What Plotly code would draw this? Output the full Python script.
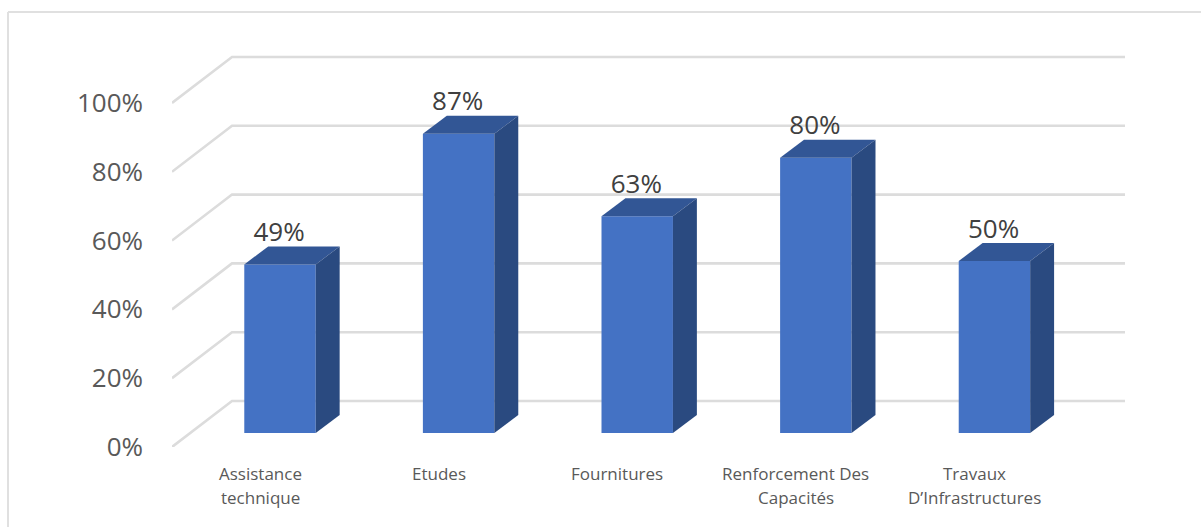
import plotly.graph_objects as go

# Data
CATEGORY_LINE_1 = ["Assistance", "Etudes", "Fournitures", "Renforcement Des", "Travaux"]
CATEGORY_LINE_2 = ["technique", "", "", "Capacités", "D’Infrastructures"]
VALUES = [49, 87, 63, 80, 50]
Y_TICKS = [0, 20, 40, 60, 80, 100]
Y_TICK_LABELS = ["0%", "20%", "40%", "60%", "80%", "100%"]

# Oblique projection, in axis units
BAR_WIDTH = 0.4
BASE = 4.07
BAR_DX, BAR_DY = 0.134, 5.23
WALL_DX, WALL_DY = 0.336, 13.37
X_LEFT, X_RIGHT = -0.6047, 4.731
Y_TOP = 115.4

FRONT, TOP, SIDE = "#4472C4", "#325695", "#2A4A80"
GRID = "#DCDCDC"
FONT = "Open Sans, sans-serif"

positions = list(range(len(VALUES)))
fig = go.Figure()

# Floor / wall gridlines
for v in Y_TICKS:
    fig.add_trace(go.Scatter(
        x=[X_LEFT, X_LEFT + WALL_DX, X_RIGHT], y=[v, v + WALL_DY, v + WALL_DY],
        mode="lines", line=dict(color=GRID, width=2.6), cliponaxis=False,
        hoverinfo="skip", zorder=0))

# Front faces
fig.add_trace(go.Bar(
    x=positions, y=VALUES, base=[BASE] * len(VALUES), width=BAR_WIDTH,
    marker=dict(color=FRONT, line=dict(width=0)), zorder=1))

# Top and side faces
for i, v in zip(positions, VALUES):
    l, r = i - BAR_WIDTH / 2, i + BAR_WIDTH / 2
    t = BASE + v
    fig.add_trace(go.Scatter(
        x=[l, r, r + BAR_DX, l + BAR_DX, l], y=[t, t, t + BAR_DY, t + BAR_DY, t],
        mode="lines", fill="toself", fillcolor=TOP, line=dict(width=0),
        hoverinfo="skip", zorder=2))
    fig.add_trace(go.Scatter(
        x=[r, r + BAR_DX, r + BAR_DX, r, r],
        y=[BASE, BASE + BAR_DY, t + BAR_DY, t, BASE],
        mode="lines", fill="toself", fillcolor=SIDE, line=dict(width=0),
        hoverinfo="skip", zorder=2))

# Data labels
fig.add_trace(go.Scatter(
    x=[p - 0.005 for p in positions], y=[BASE + v + BAR_DY - 0.3 for v in VALUES],
    mode="text", text=[f"{v}%" for v in VALUES], textposition="top center",
    textfont=dict(family=FONT, size=26, color="#404040"),
    cliponaxis=False, hoverinfo="skip", zorder=3))

W, H = 1201, 527
ML, MR, MT, MB = 172, 76, 50, 80
pw, ph = W - ML - MR, H - MT - MB
px = lambda v: (v - ML) / pw
py = lambda v: (H - MB - v) / ph

annotations = []
for i, (a, b) in enumerate(zip(CATEGORY_LINE_1, CATEGORY_LINE_2)):
    for text, y in ((a, 473), (b, 497)):
        if text:
            annotations.append(dict(
                x=i - 0.112, y=py(y), xref="x", yref="paper", text=text, showarrow=False,
                xanchor="center", yanchor="middle",
                font=dict(family=FONT, size=17, color="#595959")))

frame = dict(color="#E0E0E0", width=2)
shapes = [
    dict(type="line", xref="paper", yref="paper", x0=px(8), x1=px(W), y0=py(12), y1=py(12), line=frame, layer="below"),
    dict(type="line", xref="paper", yref="paper", x0=px(8), x1=px(8), y0=py(12), y1=py(H), line=frame, layer="below"),
]

fig.update_layout(
    width=W, height=H, autosize=False,
    margin=dict(l=ML, r=MR, t=MT, b=MB),
    paper_bgcolor="white", plot_bgcolor="white", showlegend=False,
    annotations=annotations, shapes=shapes,
    xaxis=dict(range=[X_LEFT, X_RIGHT], showgrid=False, zeroline=False,
               showticklabels=False, ticks="", showline=False, fixedrange=True),
    yaxis=dict(range=[0, Y_TOP], tickmode="array", tickvals=Y_TICKS, ticktext=Y_TICK_LABELS,
               showgrid=False, zeroline=False, showline=False, ticks="", ticklabelstandoff=28,
               tickfont=dict(family=FONT, size=26, color="#595959"), fixedrange=True),
)

fig.write_html("out.html", config={"displayModeBar": False},
               post_script="document.body.style.margin='0';document.documentElement.style.overflow='hidden';")
